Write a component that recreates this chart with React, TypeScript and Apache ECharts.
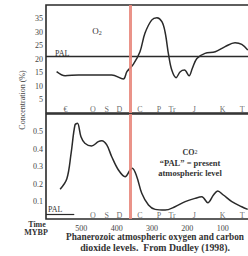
import React, { useEffect, useRef } from "react";
import * as echarts from "echarts";

// Time in millions of years before present (MYBP)
const o2Time = [570, 546, 508, 461, 414, 381, 371, 353, 334, 320, 301, 286, 272, 263, 253, 244, 232, 220, 208, 195, 186, 173, 150, 121, 93, 65, 46, 29];
const o2Value = [15.3, 13.8, 14.1, 14.1, 14.1, 12.6, 15.3, 18, 22.7, 29.5, 34.4, 35.3, 33.8, 30, 21.5, 15.9, 13.1, 15.3, 15.9, 13.8, 16.5, 20.2, 22.1, 22.7, 24.6, 26, 25.4, 23.3];

const co2Time = [560, 541, 529, 518, 511, 501, 490, 471, 452, 442, 428, 414, 395, 376, 362, 356, 343, 329, 310, 291, 263, 235, 206, 178, 159, 142, 126, 114, 98, 74, 46, 29];
const co2Value = [0.17, 0.23, 0.375, 0.537, 0.547, 0.47, 0.433, 0.417, 0.442, 0.447, 0.423, 0.356, 0.28, 0.242, 0.28, 0.29, 0.242, 0.147, 0.08, 0.055, 0.051, 0.07, 0.099, 0.118, 0.127, 0.093, 0.137, 0.16, 0.137, 0.099, 0.07, 0.055];

const periodLabels = ["€", "O", "S", "D", "C", "P", "Tr", "J", "K", "T"];
const periodTimes = [545, 467, 428, 392, 334, 280, 243, 180, 100, 45];

const xTickLabels = [100, 200, 300, 400, 500];
const o2TickLabels = [5, 10, 15, 20, 25, 30, 35];
const co2TickLabels = [0.1, 0.2, 0.3, 0.4, 0.5];

const o2PAL = 21;
const co2PAL = 0.03;
const co2PALSpan = [600, 520];
const redLineTime = 362;

const SERIF = "'Liberation Serif', 'DejaVu Serif', serif";
const INK = "#2a2a2a";
const RED = "#e8877c";

export default function App() {
  const ref = useRef<HTMLDivElement>(null);
  useEffect(() => {
    document.body.style.margin = "0";
    const chart = echarts.init(ref.current!, undefined, { renderer: "svg" });
    const axisFont = { fontFamily: SERIF, fontSize: 8, color: "#444" };
    const option: any = {
      animation: false,
      backgroundColor: "#ffffff",
      grid: [
        { left: 46, right: -10, top: 5, height: 108, show: true, borderColor: INK, borderWidth: 1.6, backgroundColor: "transparent", containLabel: false, outerBoundsMode: "none" },
        { left: 46, right: -10, top: 114, height: 105, show: true, borderColor: INK, borderWidth: 1.6, backgroundColor: "transparent", containLabel: false, outerBoundsMode: "none" },
      ],
      xAxis: [
        { gridIndex: 0, type: "value", min: 0, max: 600, inverse: true, interval: 100, axisLabel: { show: false }, axisTick: { show: false }, axisLine: { show: false }, splitLine: { show: false } },
        {
          gridIndex: 1, type: "value", min: 0, max: 600, inverse: true, interval: 100,
          axisLabel: { ...axisFont, margin: 5, formatter: (v: number) => (xTickLabels.includes(v) ? String(v) : "") },
          axisTick: { show: false }, axisLine: { show: false }, splitLine: { show: false },
        },
      ],
      yAxis: [
        {
          gridIndex: 0, type: "value", min: 0, max: 40, interval: 5,
          axisLabel: { ...axisFont, margin: 3, formatter: (v: number) => (o2TickLabels.includes(v) ? String(v) : "") },
          axisTick: { show: true, inside: true, length: 3, lineStyle: { color: INK } },
          axisLine: { show: true, lineStyle: { color: INK, width: 1.6 } }, splitLine: { show: false },
        },
        {
          gridIndex: 1, type: "value", min: 0, max: 0.6, interval: 0.1,
          axisLabel: {
            ...axisFont, margin: 3,
            formatter: (v: number) => {
              const r = Math.round(v * 10) / 10;
              return co2TickLabels.includes(r) ? r.toFixed(1) : "";
            },
          },
          axisTick: { show: true, inside: true, length: 3, lineStyle: { color: INK } },
          axisLine: { show: true, lineStyle: { color: INK, width: 1.6 } }, splitLine: { show: false },
        },
      ],
      series: [
        {
          type: "line", xAxisIndex: 0, yAxisIndex: 0, showSymbol: false, smooth: 0.35,
          data: o2Time.map((t, i) => [t, o2Value[i]]),
          lineStyle: { color: INK, width: 1.5 },
          markLine: {
            silent: true, symbol: "none", label: { show: false },
            data: [
              { yAxis: o2PAL, lineStyle: { color: INK, width: 1.3, type: "solid" } },
              { xAxis: redLineTime, lineStyle: { color: RED, width: 3, type: "solid", opacity: 0.9 } },
            ],
          },
        },
        {
          type: "line", xAxisIndex: 1, yAxisIndex: 1, showSymbol: false, smooth: 0.35,
          data: co2Time.map((t, i) => [t, co2Value[i]]),
          lineStyle: { color: INK, width: 1.5 },
          markLine: {
            silent: true, symbol: "none", label: { show: false },
            data: [
              { xAxis: redLineTime, lineStyle: { color: RED, width: 3, type: "solid", opacity: 0.9 } },
              [
                { coord: [co2PALSpan[0], co2PAL], lineStyle: { color: INK, width: 1.2, type: "solid" } },
                { coord: [co2PALSpan[1], co2PAL] },
              ],
            ],
          },
        },
        {
          type: "scatter", xAxisIndex: 0, yAxisIndex: 0, symbolSize: 0, silent: true,
          data: periodTimes.map((t, i) => ({ value: [t, 1.4], name: periodLabels[i] })),
          label: { show: true, position: "inside", formatter: (p: any) => p.name, fontFamily: SERIF, fontSize: 8, color: "#444" },
        },
        {
          type: "scatter", xAxisIndex: 1, yAxisIndex: 1, symbolSize: 0, silent: true,
          data: periodTimes.slice(1).map((t, i) => ({ value: [t, 0.022], name: periodLabels[i + 1] })),
          label: { show: true, position: "inside", formatter: (p: any) => p.name, fontFamily: SERIF, fontSize: 8, color: "#444" },
        },
      ],
      graphic: [
        {
          type: "text", x: 97, y: 31,
          style: { text: "O{s|2}", rich: { s: { fontSize: 6, verticalAlign: "bottom", fontFamily: SERIF, fill: "#333" } }, font: `9px ${SERIF}`, fill: "#333", align: "center", verticalAlign: "middle" },
        },
        { type: "text", x: 55, y: 53, style: { text: "PAL", font: `8px ${SERIF}`, fill: "#333", align: "left", verticalAlign: "middle" } },
        { type: "text", x: 48, y: 209, style: { text: "PAL", font: `8px ${SERIF}`, fill: "#333", align: "left", verticalAlign: "middle" } },
        {
          type: "text", x: 190, y: 152,
          style: { text: "CO{s|2}", rich: { s: { fontSize: 6, fontFamily: SERIF, fill: "#333" } }, font: `bold 8px ${SERIF}`, fill: "#333", align: "center", verticalAlign: "middle" },
        },
        { type: "text", x: 190, y: 163, style: { text: "\u201CPAL\u201D = present", font: `bold 8.5px ${SERIF}`, fill: "#333", align: "center", verticalAlign: "middle" } },
        { type: "text", x: 190, y: 173, style: { text: "atmospheric level", font: `bold 8.5px ${SERIF}`, fill: "#333", align: "center", verticalAlign: "middle" } },
        { type: "text", x: 22, y: 100, rotation: Math.PI / 2, style: { text: "Concentration (%)", font: `8px ${SERIF}`, fill: "#444", align: "center", verticalAlign: "middle" } },
        { type: "text", x: 37, y: 224, style: { text: "Time", font: `bold 8px ${SERIF}`, fill: "#333", align: "center", verticalAlign: "middle" } },
        { type: "text", x: 36, y: 232, style: { text: "MYBP", font: `bold 8px ${SERIF}`, fill: "#333", align: "center", verticalAlign: "middle" } },
        { type: "text", x: 155, y: 237, style: { text: "Phanerozoic atmospheric oxygen and carbon", font: `bold 9.3px ${SERIF}`, fill: "#333", align: "center", verticalAlign: "middle" } },
        { type: "text", x: 155, y: 247, style: { text: "dioxide levels.  From Dudley (1998).", font: `bold 9.8px ${SERIF}`, fill: "#333", align: "center", verticalAlign: "middle" } },
      ],
    };
    chart.setOption(option);
    return () => chart.dispose();
  }, []);
  return <div ref={ref} style={{ position: "absolute", left: 0, top: 0, width: 248, height: 256 }} />;
}
